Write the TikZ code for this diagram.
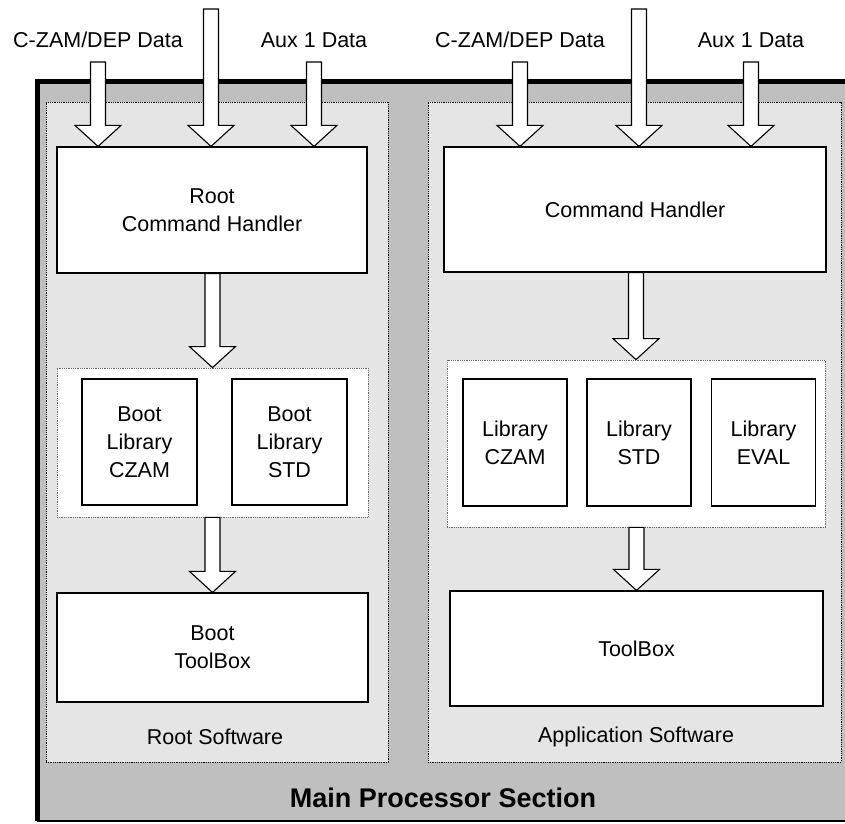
\documentclass[tikz,border=0pt]{standalone}
\usepackage{fontspec}
\setmainfont{Liberation Sans}
\usetikzlibrary{arrows.meta,calc,positioning}
\definecolor{mpsgray}{gray}{0.75}
\definecolor{mpspanel}{gray}{0.9}
\tikzset{
  every picture/.append style={line join=miter},
  mps panel/.style={draw=black,densely dotted,fill=mpspanel,line width=0.8pt,inner sep=0pt},
  mps group/.style={draw=black!60,densely dotted,fill=white,line width=0.8pt,inner sep=0pt},
  mps box/.style={draw=black,fill=white,line width=1.2pt,inner sep=0pt,align=center,
    font=\fontsize{21.5}{28}\selectfont},
  mps note/.style={font=\fontsize{21.5}{28}\selectfont,align=center,inner sep=0pt},
  mps title/.style={font=\fontsize{27}{32}\selectfont\bfseries,inner sep=0pt},
  mps arrow/.style={draw=black,fill=white,line width=1.1pt,
    to path={let \p1=(\tikztostart),\p2=(\tikztotarget) in
      (\x2-7.5pt,\y1-#1) -- (\x2-7.5pt,\y2+21pt) -- (\x2-23pt,\y2+21pt) -- (\x2,\y2)
      -- (\x2+23pt,\y2+21pt) -- (\x2+7.5pt,\y2+21pt) -- (\x2+7.5pt,\y1-#1) -- cycle}},
  mps arrow/.default=0pt
}

\begin{document}
\begin{tikzpicture}[x=1pt,y=-1pt]
\useasboundingbox (0,0) rectangle (845,823);
% processor frame
\fill[mpsgray] (37,81.5) rectangle (850,821);
\draw[line width=2pt] (37,821) -- (850,821);
\draw[line width=5pt] (37,821) |- (850,81.5);
\node[mps title] (mps) at (443,798) {Main Processor Section};

% the two software panels
\node[mps panel,minimum width=342pt,minimum height=660pt] (rootsw) at (217,432) {};
\node[mps panel,minimum width=413pt,minimum height=660pt] (appsw) at (634.5,432) {};
\node[mps note] (rootlab) at (215,737) {Root Software};
\node[mps note] (applab) at (636,737) {Application Software};

% root side
\node[mps box,minimum width=310pt,minimum height=126pt] (rch) at (212,210) {Root\\Command Handler};
\node[mps group,minimum width=311pt,minimum height=149pt] (libL) at (212.5,442.5) {};
\node[mps box,minimum width=115pt,minimum height=126pt] (bczam) at (139.5,442) {Boot\\Library\\CZAM};
\node[mps box,minimum width=115pt,minimum height=126pt] (bstd) at (289.5,442) {Boot\\Library\\STD};
\node[mps box,minimum width=311pt,minimum height=109pt] (btool) at (212.5,647.5) {Boot\\ToolBox};

% application side
\node[mps box,minimum width=382pt,minimum height=125pt] (ch) at (635,209.5) {Command Handler};
\node[mps group,minimum width=378pt,minimum height=167pt] (libR) at (636,443.5) {};
\node[mps box,minimum width=104pt,minimum height=127pt] (lczam) at (515,442.5) {Library\\CZAM};
\node[mps box,minimum width=104pt,minimum height=127pt] (lstd) at (639,442.5) {Library\\STD};
\node[mps box,minimum width=104pt,minimum height=127pt] (leval) at (763.5,442.5) {Library\\EVAL};
\node[mps box,minimum width=373pt,minimum height=115pt] (tool) at (636.5,648.5) {ToolBox};

% inputs
\node[mps note,anchor=base] (czamL) at (98,47) {C-ZAM/DEP Data};
\node[mps note,anchor=base] (auxL) at (314,47) {Aux 1 Data};
\node[mps note,anchor=base] (czamR) at (520,47) {C-ZAM/DEP Data};
\node[mps note,anchor=base] (auxR) at (751,47) {Aux 1 Data};
\coordinate (topL) at (211,9);
\coordinate (topR) at (639,9);

\draw[mps arrow=15pt] (czamL.base) to (czamL |- rch.north);
\draw[mps arrow] (topL) to (topL |- rch.north);
\draw[mps arrow=15pt] (auxL.base) to (auxL |- rch.north);
\draw[mps arrow=15pt] (czamR.base) to (czamR |- ch.north);
\draw[mps arrow] (topR) to (topR |- ch.north);
\draw[mps arrow=15pt] (auxR.base) to (auxR |- ch.north);

\draw[mps arrow] (rch.south) to (libL.north);
\draw[mps arrow] (libL.south) to (btool.north);
\draw[mps arrow] (ch.south) to (libR.north);
\draw[mps arrow] (libR.south) to (tool.north);
\end{tikzpicture}
\end{document}
